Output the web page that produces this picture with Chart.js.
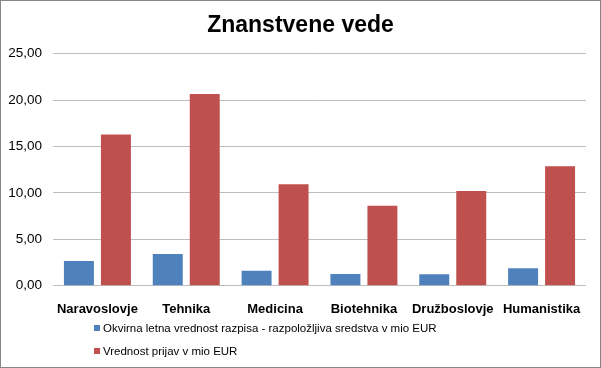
<!DOCTYPE html>
<html>
<head>
<meta charset="utf-8">
<script src="https://cdn.jsdelivr.net/npm/chart.js@4"></script>
<style>
  html, body { margin: 0; padding: 0; background: #fff; }
  #wrap {
    position: relative;
    width: 601px; height: 368px;
    box-sizing: border-box;
    border: 1px solid #868686;
    font-family: "Liberation Sans", Arial, sans-serif;
  }
  #wrap canvas { position: absolute; left: 0; top: 0; }
  #title {
    position: absolute; left: 0; right: 0; top: 9.5px;
    text-align: center; font-size: 23px; font-weight: bold; line-height: 27px; color: #000;
  }
  #legend { position: absolute; left: 93px; top: 317px; font-size: 11.5px; color: #000; }
  .lg-row { height: 23px; line-height: 20px; white-space: nowrap; }
  .lg-box { display: inline-block; width: 6px; height: 6px; margin-right: 3px; vertical-align: 1px; }
</style>
</head>
<body>
<div id="wrap">
  <canvas id="chart" width="599" height="366"></canvas>
  <div id="title">Znanstvene vede</div>
  <div id="legend"></div>
</div>
<script>
// ─── Data ───────────────────────────────
const categories = ["Naravoslovje", "Tehnika", "Medicina", "Biotehnika", "Družboslovje", "Humanistika"];
const seriesNames = [
  "Okvirna letna vrednost razpisa - razpoložljiva sredstva v mio EUR",
  "Vrednost prijav v mio EUR",
];
const razpisValues = [2.66, 3.42, 1.62, 1.26, 1.23, 1.87];
const prijaveValues = [16.3, 20.65, 10.92, 8.62, 10.2, 12.87];
const yTicks = [0, 5, 10, 15, 20, 25];

const colors = ["#4f81bd", "#c0504d"];
const FONT = "'Liberation Sans', Arial, sans-serif";

// ─── Chart ──────────────────────────────
const ctx = document.getElementById("chart").getContext("2d");
const chart = new Chart(ctx, {
  type: "bar",
  data: {
    labels: categories,
    datasets: [
      { label: seriesNames[0], data: razpisValues, backgroundColor: colors[0] },
      { label: seriesNames[1], data: prijaveValues, backgroundColor: colors[1] },
    ],
  },
  options: {
    responsive: false,
    animation: false,
    devicePixelRatio: 1,
    categoryPercentage: 0.833,
    barPercentage: 0.81,
    layout: { padding: { left: 0, right: 14, top: 52.7, bottom: 0 } },
    plugins: {
      legend: { display: false },
      tooltip: { enabled: false },
      title: { display: false },
    },
    scales: {
      x: {
        grid: { display: false },
        border: { display: false },
        ticks: { color: "#000", font: { family: FONT, size: 13, weight: "bold" }, padding: 8, maxRotation: 0, autoSkip: false },
        afterFit: s => { s.height = 81.3; },
      },
      y: {
        min: yTicks[0],
        max: yTicks[yTicks.length - 1],
        afterBuildTicks: s => { s.ticks = yTicks.map(v => ({ value: v })); },
        grid: { color: "#bdbdbd", drawTicks: false },
        border: { display: false },
        ticks: {
          color: "#000",
          font: { family: FONT, size: 13.5 },
          padding: 11,
          callback: v => v.toFixed(2).replace(".", ","),
        },
        afterFit: s => { s.width = 52; },
      },
    },
  },
});

// ─── Legend ─────────────────────────────
const legend = document.getElementById("legend");
chart.data.datasets.forEach(ds => {
  const row = document.createElement("div");
  row.className = "lg-row";
  row.innerHTML = `<span class="lg-box" style="background:${ds.backgroundColor}"></span>${ds.label}`;
  legend.appendChild(row);
});
</script>
</body>
</html>
